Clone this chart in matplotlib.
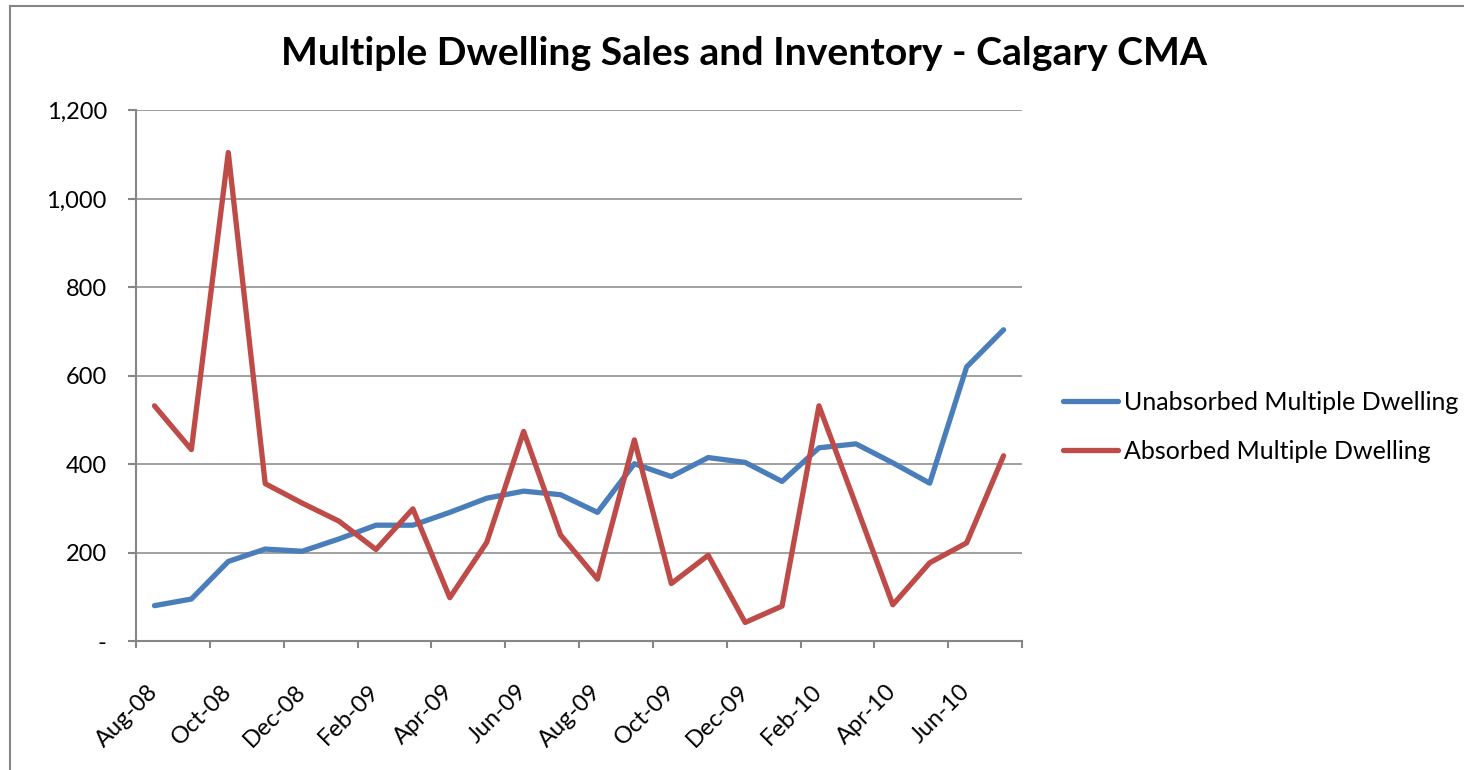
import numpy as np
import matplotlib.pyplot as plt
from matplotlib.ticker import FixedLocator, FuncFormatter
from matplotlib.lines import Line2D

# Monthly figures, Aug 2008 - Jul 2010
months = ['Aug-08', 'Sep-08', 'Oct-08', 'Nov-08', 'Dec-08', 'Jan-09',
          'Feb-09', 'Mar-09', 'Apr-09', 'May-09', 'Jun-09', 'Jul-09',
          'Aug-09', 'Sep-09', 'Oct-09', 'Nov-09', 'Dec-09', 'Jan-10',
          'Feb-10', 'Mar-10', 'Apr-10', 'May-10', 'Jun-10', 'Jul-10']
unabsorbed = [80, 95, 180, 208, 203, 231, 262, 262, 291, 323, 339, 331,
              291, 401, 372, 415, 404, 361, 437, 446, 403, 357, 620, 704]
absorbed = [532, 433, 1105, 356, 312, 271, 207, 299, 98, 223, 474, 240,
            140, 455, 130, 194, 42, 79, 532, 308, 82, 177, 222, 419]

blue = '#4A7EBB'
red = '#BE4B48'
grey = '#868686'

plt.rcParams['font.family'] = ['Lato', 'DejaVu Sans']

fig = plt.figure(figsize=(14.64, 7.70), dpi=100)
ax = fig.add_axes([0.0929, 0.1675, 0.6052, 0.689])

x = np.arange(len(months))
ax.plot(x, unabsorbed, color=blue, lw=3.8, solid_capstyle='round',
        solid_joinstyle='round', zorder=3)
ax.plot(x, absorbed, color=red, lw=3.8, solid_capstyle='round',
        solid_joinstyle='round', zorder=3)

ax.set_xlim(-0.5, len(months) - 0.5)
ax.set_ylim(0, 1200)

# y axis
ax.set_yticks(np.arange(0, 1201, 200))
ax.yaxis.set_major_formatter(FuncFormatter(lambda v, p: '-' if v == 0 else f'{int(v):,}'))
ax.yaxis.grid(True, color=grey, lw=1.1)
ax.set_axisbelow(True)

# x axis: tick marks on category edges, labels on every other category
ax.xaxis.set_major_locator(FixedLocator(np.arange(-0.5, len(months), 2)))
ax.xaxis.set_major_formatter(FuncFormatter(lambda v, p: ''))
ax.xaxis.set_minor_locator(FixedLocator(x[::2]))
ax.set_xticklabels(months[::2], minor=True)
ax.tick_params(axis='x', which='minor', length=0, pad=34, labelsize=17)
for lbl in ax.get_xticklabels(minor=True):
    lbl.set_rotation(45)
    lbl.set_ha('right')
    lbl.set_va('center')
    lbl.set_rotation_mode('anchor')
ax.tick_params(axis='x', which='major', length=5, width=1.5, color=grey)
ax.tick_params(axis='y', length=6, width=1.5, color=grey, labelsize=17, pad=15)

for side in ['top', 'right']:
    ax.spines[side].set_visible(False)
for side in ['left', 'bottom']:
    ax.spines[side].set_color(grey)
    ax.spines[side].set_linewidth(1.5)

fig.text(0.508, 0.931, 'Multiple Dwelling Sales and Inventory - Calgary CMA',
         ha='center', va='center', fontsize=28.2, fontweight='bold')

handles = [Line2D([], [], color=blue, lw=3.8, solid_capstyle='round'),
           Line2D([], [], color=red, lw=3.8, solid_capstyle='round')]
fig.legend(handles, ['Unabsorbed Multiple Dwelling', 'Absorbed Multiple Dwelling'],
           loc='center left', bbox_to_anchor=(0.7177, 0.4455), frameon=False,
           fontsize=18, handlelength=2.2, handletextpad=0.25, labelspacing=1.05,
           borderpad=0)

# outer chart border
fig.add_artist(Line2D([10 / 1464, 10 / 1464], [0, 1 - 6 / 770],
                      transform=fig.transFigure, color=grey, lw=1.5))
fig.add_artist(Line2D([10 / 1464, 1], [1 - 6 / 770, 1 - 6 / 770],
                      transform=fig.transFigure, color=grey, lw=1.5))

fig.savefig('out.png', dpi=100)
